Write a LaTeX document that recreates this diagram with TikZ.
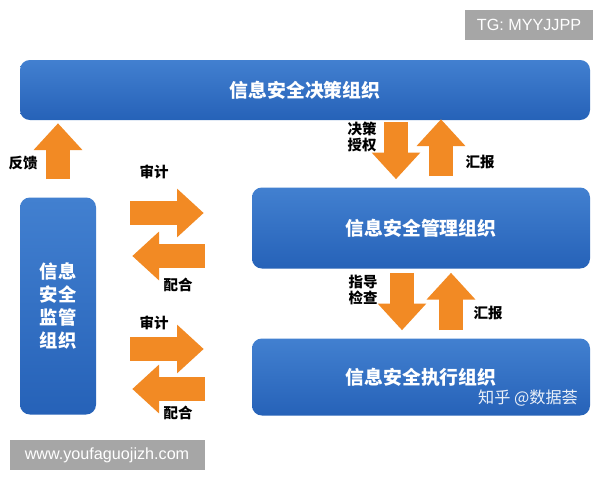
\documentclass[tikz,border=0pt]{standalone}
\usepackage{fontspec}
\usepackage{xcolor}
\setmainfont{Noto Sans CJK SC}
\newfontfamily\latinsf{Liberation Sans}
\usetikzlibrary{arrows.meta,positioning,calc}
\definecolor{orgblueTop}{RGB}{66,128,208}
\definecolor{orgblueBot}{RGB}{38,98,184}
\definecolor{flowOrange}{RGB}{242,138,36}
\definecolor{markGray}{RGB}{166,166,166}
\newcommand{\pu}{0.025cm}

\begin{document}
\begin{tikzpicture}[x=0.025cm,y=-0.025cm]
  \tikzstyle{orgbox}=[rectangle, rounded corners=7pt, top color=orgblueTop, bottom color=orgblueBot, draw=none, text=white, font=\bfseries\fontsize{13.4pt}{16pt}\selectfont, align=center]
  \tikzstyle{blockarrow}=[draw=flowOrange, line width=17pt, -{Triangle[width=33.5pt, length=19pt]}]
  \tikzstyle{flowlabel}=[font=\bfseries\fontsize{10.3pt}{12pt}\selectfont, align=center, text=black]
  \tikzstyle{markbox}=[rectangle, fill=markGray, text=white, font=\latinsf\fontsize{11.5pt}{13pt}\selectfont, minimum height=30*\pu, inner sep=0pt]

  \useasboundingbox[fill=white] (0,0) rectangle (600,480);

  % Organisations
  \node[orgbox, minimum width=570*\pu, minimum height=60*\pu] (decide) at (305,90) {信息安全决策组织};
  \node[orgbox, minimum width=338*\pu, minimum height=81*\pu] (manage) at (421,228) {信息安全管理组织};
  \node[orgbox, minimum width=338*\pu, minimum height=77*\pu] (execute) at (421,377) {信息安全执行组织};
  \node[orgbox, minimum width=76*\pu, minimum height=217*\pu, font=\bfseries\fontsize{13pt}{16.3pt}\selectfont] (supervise) at (58,306) {信息\\安全\\监管\\组织};

  % Flows
  \draw[blockarrow] ($(supervise.north)+(0,-18)$) -- ($(decide.south -| supervise.north)+(0,3)$);
  \draw[blockarrow] ($(supervise.east |- manage.center)+(34,-15)$) -- ($(manage.west)+(-48,-15)$);
  \draw[blockarrow] ($(manage.west)+(-47,28)$) -- ($(supervise.east |- manage.center)+(36,28)$);
  \draw[blockarrow] ($(supervise.east |- execute.center)+(34,-28)$) -- ($(execute.west)+(-48,-28)$);
  \draw[blockarrow] ($(execute.west)+(-47,12)$) -- ($(supervise.east |- execute.center)+(36,12)$);
  \draw[blockarrow] ($(decide.south -| manage.north)+(-25,2)$) -- ($(manage.north)+(-25,-8)$);
  \draw[blockarrow] ($(manage.north)+(20,-11)$) -- ($(decide.south -| manage.north)+(20,-1)$);
  \draw[blockarrow] ($(manage.south)+(-19,4)$) -- ($(execute.north)+(-19,-8)$);
  \draw[blockarrow] ($(execute.north)+(30,-8)$) -- ($(manage.south)+(30,4)$);

  % Labels
  \node[flowlabel] (feedback) at (23,163) {反馈};
  \node[flowlabel] (audit1) at (154,172) {审计};
  \node[flowlabel] (coop1) at (178,285) {配合};
  \node[flowlabel] (audit2) at (154,323) {审计};
  \node[flowlabel] (coop2) at (178,413) {配合};
  \node[flowlabel] (auth) at (362,137) {决策\\授权};
  \node[flowlabel] (report1) at (480,162) {汇报};
  \node[flowlabel] (guide) at (363,290) {指导\\检查};
  \node[flowlabel] (report2) at (488,313) {汇报};

  % Marks
  \node[text=white, opacity=0.9, font=\fontsize{11.5pt}{13pt}\selectfont] (zhihu) at (528,398) {知乎 @数据荟};
  \node[markbox, minimum width=128*\pu] (tg) at (529,25) {TG: MYYJJPP};
  \node[markbox, minimum width=195*\pu] (site) at (107,455) {www.youfaguojizh.com};
\end{tikzpicture}
\end{document}
